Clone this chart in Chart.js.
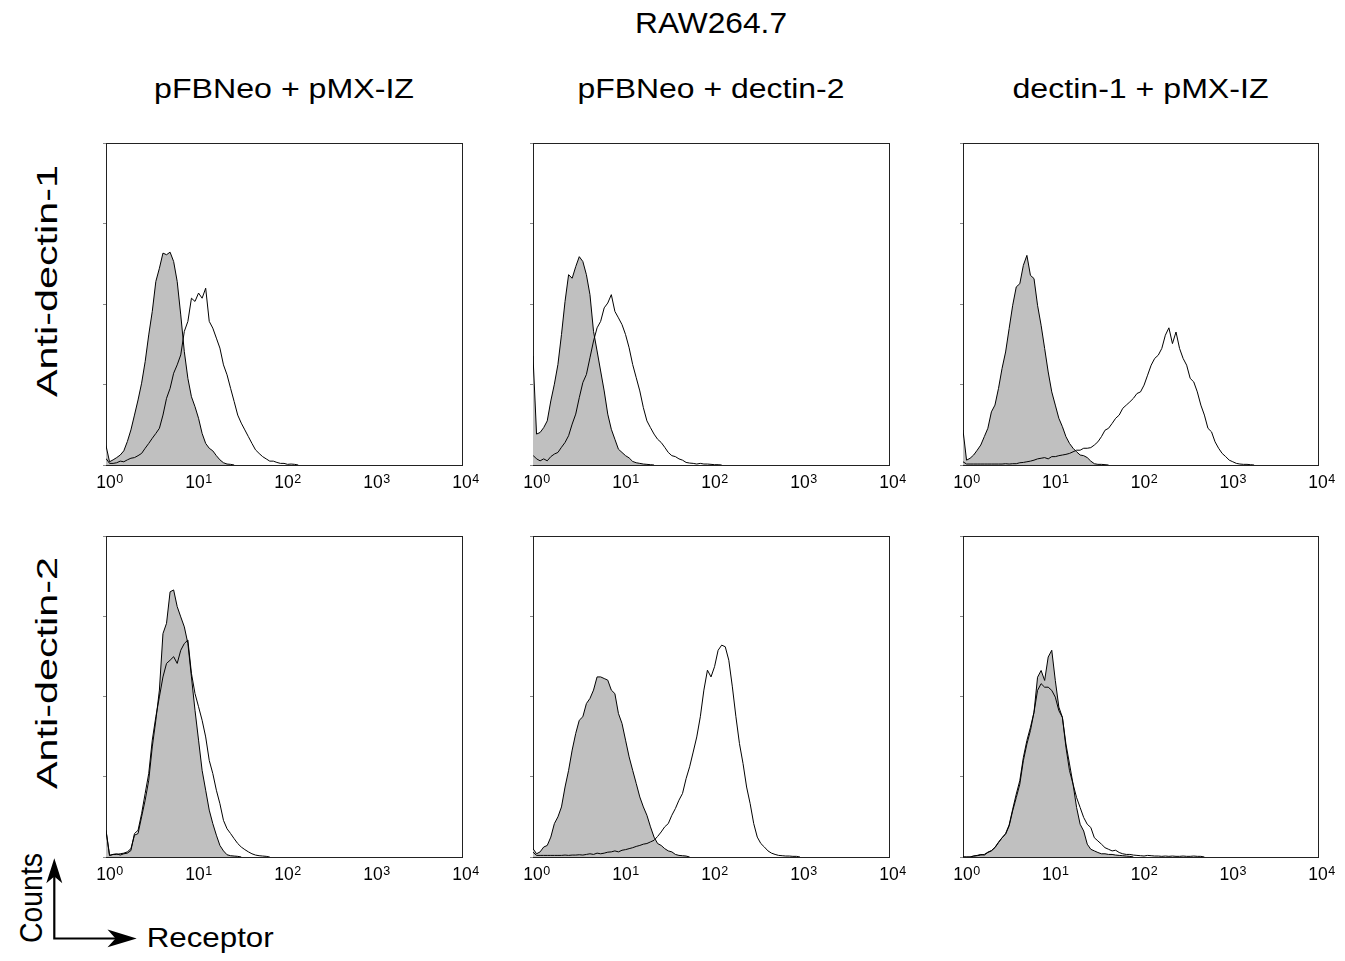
<!DOCTYPE html>
<html><head><meta charset="utf-8">
<script src="https://cdn.jsdelivr.net/npm/chart.js@4.4.1/dist/chart.umd.min.js"></script>
<style>
html,body{margin:0;padding:0;background:#fff;}
#page{position:relative;width:1345px;height:961px;overflow:hidden;font-family:"Liberation Sans",Arial,Helvetica,sans-serif;}
canvas{position:absolute;}
#ann{position:absolute;left:0;top:0;}
</style></head><body><div id="page"><svg id="ann" width="1345" height="961" xmlns="http://www.w3.org/2000/svg"></svg></div>
<script>
// ---------- text ----------
const mainTitle = 'RAW264.7';
const columnTitles = ['pFBNeo + pMX-IZ', 'pFBNeo + dectin-2', 'dectin-1 + pMX-IZ'];
const rowTitles = ['Anti-dectin-1', 'Anti-dectin-2'];
const yAxisName = 'Counts';
const xAxisName = 'Receptor';
const decadeTicks = [1, 10, 100, 1000, 10000];

// ---------- histogram bins: bin i sits at 10^(i*0.04) ----------
const BIN_LOG_STEP = 0.04;

// row 1 (anti-dectin-1), column 1 (pFBNeo + pMX-IZ)
const fill_r1c1 = [6, 1.0, 1.6, 2.3, 3.1, 4.4, 7.3, 10.9, 15.5, 20.2, 25.4, 32.1, 40.4, 47.7, 57.0, 61.1, 65.8, 65.3, 66.1, 63.2, 57.0, 46.6, 35.2, 26.9, 21.2, 18.1, 14.5, 9.8, 6.7, 5.2, 4.4, 2.9, 1.6, 0.7, 0.3, 0.2, 0];
const open_r1c1 = [2, 0.5, 0.5, 0.7, 1.2, 1.0, 1.6, 2.1, 2.3, 2.9, 3.6, 5.2, 6.7, 8.3, 9.8, 11.4, 15.5, 20.7, 23.8, 28.5, 31.1, 34.2, 41.5, 44.6, 51.8, 50.8, 53.4, 51.8, 54.9, 44.6, 42.5, 39.4, 36.3, 31.1, 28.0, 23.8, 19.7, 15.5, 13.0, 10.9, 8.8, 6.7, 4.7, 3.6, 2.6, 1.9, 1.2, 1.2, 0.8, 0.5, 0.5, 0.2, 0.3, 0.2, 0];
// row 1, column 2 (pFBNeo + dectin-2)
const fill_r1c2 = [33.8, 9.6, 10.1, 11.6, 13.7, 19.9, 25.1, 31.2, 40.5, 50.8, 59.1, 58.0, 61.6, 64.7, 63.2, 59.1, 52.9, 41.5, 35.4, 29.2, 23.0, 15.8, 11.1, 8.0, 4.9, 3.9, 2.9, 2.2, 1.1, 0.7, 0.5, 0.3, 0.2, 0.1, 0];
const open_r1c2 = [3, 1.9, 1.3, 1.9, 1.3, 2.6, 3.4, 3.9, 5.5, 7.0, 9.1, 12.7, 15.8, 20.9, 25.6, 28.1, 33.3, 38.5, 42.6, 44.6, 48.8, 50.3, 52.9, 47.7, 45.7, 43.6, 40.5, 36.4, 31.2, 27.1, 23.0, 17.8, 13.7, 11.6, 9.6, 8.0, 7.0, 5.5, 3.9, 2.9, 2.6, 1.9, 1.5, 0.8, 0.6, 0.5, 0.3, 0.5, 0.3, 0.3, 0.2, 0.1, 0.1, 0];
// row 1, column 3 (dectin-1 + pMX-IZ)
const fill_r1c3 = [10.8, 1.5, 2.1, 3.1, 4.6, 6.2, 8.8, 11.4, 16.5, 18.6, 23.8, 30.0, 35.1, 42.4, 49.6, 55.3, 56.3, 62.0, 65.1, 58.9, 57.9, 49.6, 43.4, 36.2, 28.9, 22.7, 18.6, 14.5, 11.9, 8.8, 6.7, 5.2, 4.1, 3.1, 2.9, 2.3, 1.2, 0.4, 0.2, 0.2, 0.1, 0];
const open_r1c3 = [1, 0.3, 0.3, 0.3, 0.3, 0.3, 0.3, 0.3, 0.3, 0.3, 0.3, 0.3, 0.4, 0.3, 0.4, 0.4, 0.7, 0.8, 1.0, 1.2, 1.5, 1.9, 2.1, 2.3, 1.9, 2.6, 2.6, 2.9, 3.1, 3.3, 3.6, 4.1, 4.6, 4.6, 5.2, 5.2, 5.4, 6.2, 7.2, 8.8, 10.8, 11.4, 12.9, 14.5, 15.5, 17.6, 18.6, 19.6, 20.7, 22.2, 22.7, 24.8, 27.9, 31.0, 33.1, 34.1, 36.2, 40.3, 42.6, 37.7, 41.3, 36.2, 33.1, 31.0, 26.9, 25.8, 22.7, 18.6, 15.5, 11.4, 10.3, 7.2, 5.2, 3.6, 2.6, 1.5, 1.0, 0.5, 0.3, 0.2, 0.2, 0.1, 0];
// row 2 (anti-dectin-2), column 1
const fill_r2c1 = [8.3, 0.5, 0.8, 0.8, 1.0, 1.2, 1.6, 2.6, 6.8, 7.3, 12.5, 17.7, 23.9, 34.3, 42.6, 52.0, 69.6, 72.8, 82.6, 83.2, 78.0, 74.8, 71.7, 66.5, 56.1, 45.7, 36.4, 27.0, 20.8, 14.6, 10.4, 6.8, 3.6, 1.9, 0.7, 0.4, 0.3, 0.2, 0];
const open_r2c1 = [8.3, 0.5, 0.8, 1.0, 0.6, 1.0, 1.2, 2.0, 7.3, 8.3, 13.5, 19.8, 26.0, 36.4, 43.7, 49.9, 56.1, 60.3, 61.3, 62.4, 60.3, 64.4, 66.5, 67.6, 57.2, 50.9, 46.8, 42.6, 37.4, 30.1, 26.0, 20.8, 16.6, 11.4, 8.8, 7.3, 5.7, 4.2, 3.1, 2.3, 1.6, 1.0, 0.6, 0.4, 0.3, 0.2, 0];
// row 2, column 2
const fill_r2c2 = [2.6, 1.0, 1.6, 3.1, 3.6, 6.2, 10.4, 12.5, 15.6, 21.8, 27.0, 33.3, 38.5, 42.6, 43.7, 47.8, 49.4, 52.0, 56.1, 56.1, 55.6, 55.1, 52.0, 50.9, 44.7, 41.6, 36.4, 31.2, 27.0, 22.9, 18.7, 15.6, 13.0, 9.4, 6.2, 4.2, 3.6, 2.6, 1.9, 1.6, 0.8, 0.5, 0.4, 0.3, 0];
const open_r2c2 = [1.5, 0.5, 0.5, 0.5, 0.5, 0.5, 0.5, 0.5, 0.5, 0.6, 0.5, 0.6, 0.6, 0.7, 0.6, 0.8, 1.0, 0.8, 1.2, 1.0, 1.2, 1.5, 1.6, 1.9, 1.6, 2.1, 2.3, 2.6, 2.9, 3.3, 3.6, 4.0, 4.2, 4.7, 5.2, 6.4, 7.8, 9.4, 10.4, 13.0, 15.1, 17.7, 19.8, 24.4, 28.1, 32.7, 37.4, 43.7, 52.0, 58.2, 56.1, 59.3, 64.4, 66.0, 65.5, 61.3, 53.0, 43.7, 35.3, 29.1, 21.8, 16.6, 10.4, 6.2, 4.2, 3.1, 1.9, 1.2, 0.8, 0.5, 0.4, 0.3, 0.3, 0.2, 0.2, 0];
// row 2, column 3
const fill_r2c3 = [0, 0, 0, 0.3, 0.5, 0.8, 0.6, 1.4, 1.9, 2.9, 4.5, 6.0, 7.1, 9.7, 14.4, 18.5, 22.7, 30.0, 35.2, 39.4, 45.1, 56.0, 58.1, 55.0, 62.3, 64.4, 55.0, 46.7, 43.5, 34.2, 26.9, 22.7, 15.4, 10.2, 8.1, 4.0, 2.4, 1.9, 1.4, 1.0, 1.0, 0.8, 0.8, 0.6, 0.5, 0.4, 0.3, 0.2, 0];
const open_r2c3 = [0, 0, 0, 0.3, 0.4, 0.6, 0.8, 1.5, 2.0, 3.0, 4.6, 6.0, 7.3, 10.0, 14.9, 19.6, 23.8, 31.0, 36.3, 40.4, 45.1, 51.9, 54.0, 52.9, 52.9, 51.9, 49.8, 45.6, 43.5, 35.2, 29.0, 22.7, 18.5, 15.4, 12.3, 10.2, 9.2, 6.0, 5.0, 4.0, 2.9, 2.4, 1.9, 2.1, 1.4, 1.0, 0.8, 0.8, 0.6, 0.5, 0.4, 0.3, 0.5, 0.4, 0.3, 0.3, 0.2, 0.3, 0.2, 0.3, 0.2, 0.2, 0.3, 0.2, 0.2, 0.3, 0.2, 0.2, 0];

const panelFill = [[fill_r1c1, fill_r1c2, fill_r1c3], [fill_r2c1, fill_r2c2, fill_r2c3]];
const panelOpen = [[open_r1c1, open_r1c2, open_r1c3], [open_r2c1, open_r2c2, open_r2c3]];

// ---------- layout (page pixels) ----------
const panelLeft = [106, 533, 963];
const panelRight = [462, 889, 1318];
const panelTop = [143, 536];
const panelBottom = [465, 857];
const FONT = '"Liberation Sans", Arial, Helvetica, sans-serif';

function toPoints(vals) {
  return vals.map((v, i) => ({ x: Math.pow(10, i * BIN_LOG_STEP), y: v }));
}

const decadeLabelPlugin = {
  id: 'decadeLabels',
  afterDraw(chart) {
    const sc = chart.scales.x, ctx = chart.ctx, base = chart.chartArea.bottom;
    ctx.save();
    ctx.fillStyle = '#000';
    ctx.textBaseline = 'alphabetic';
    sc.ticks.forEach(t => {
      const px = sc.getPixelForValue(t.value);
      const exp = String(Math.round(Math.log10(t.value)));
      ctx.font = '17.5px ' + FONT;
      ctx.textAlign = 'center';
      ctx.fillText('10', px, base + 23.3);
      const w = ctx.measureText('10').width;
      ctx.font = '12.5px ' + FONT;
      ctx.textAlign = 'left';
      ctx.fillText(exp, px + w / 2 + 0.6, base + 18.3);
    });
    ctx.restore();
  }
};

const page = document.getElementById('page');
const padL = 14, padT = 8, padR = 36, padB = 34;
for (let r = 0; r < 2; r++) {
  for (let c = 0; c < 3; c++) {
    const W = panelRight[c] - panelLeft[c];
    const H = panelBottom[r] - panelTop[r];
    const cv = document.createElement('canvas');
    cv.width = W + padL + padR;
    cv.height = H + padT + padB;
    cv.style.left = (panelLeft[c] - padL) + 'px';
    cv.style.top = (panelTop[r] - padT) + 'px';
    page.appendChild(cv);
    const frame = { display: true, color: '#222', width: 1 };
    new Chart(cv, {
      type: 'line',
      data: {
        datasets: [
          { data: toPoints(panelFill[r][c]), borderColor: '#000', borderWidth: 1, backgroundColor: '#c0c0c0', fill: 'origin', pointRadius: 0, tension: 0, order: 2 },
          { data: toPoints(panelOpen[r][c]), borderColor: '#000', borderWidth: 1, backgroundColor: 'rgba(0,0,0,0)', fill: false, pointRadius: 0, tension: 0, order: 1 }
        ]
      },
      options: {
        responsive: false, animation: false, devicePixelRatio: 1, events: [],
        layout: { padding: { left: padL, top: padT, right: padR, bottom: padB } },
        plugins: { legend: { display: false }, tooltip: { enabled: false } },
        scales: {
          x: { type: 'logarithmic', min: 1, max: 10000, position: 'bottom',
               afterBuildTicks: s => { s.ticks = decadeTicks.map(v => ({ value: v })); },
               ticks: { display: false }, grid: { display: false }, border: frame,
               afterFit: s => { s.height = 0; } },
          y: { type: 'linear', min: 0, max: 100, position: 'left',
               ticks: { display: false, stepSize: 25 },
               grid: { display: true, drawOnChartArea: false, drawTicks: true, tickLength: 3, color: '#888' },
               border: frame, afterFit: s => { s.width = 0; } },
          x2: { type: 'linear', position: 'top', ticks: { display: false }, grid: { display: false }, border: frame, afterFit: s => { s.height = 0; } },
          y2: { type: 'linear', position: 'right', ticks: { display: false }, grid: { display: false }, border: frame, afterFit: s => { s.width = 0; } }
        }
      },
      plugins: [decadeLabelPlugin]
    });
  }
}

// ---------- annotations (SVG text and arrows) ----------
const svg = document.getElementById('ann');
const NS = 'http://www.w3.org/2000/svg';
function svgEl(tag, attrs, text) {
  const e = document.createElementNS(NS, tag);
  for (const k in attrs) e.setAttribute(k, attrs[k]);
  if (text !== undefined) e.textContent = text;
  svg.appendChild(e);
  return e;
}
const txt = { 'font-family': 'Liberation Sans, Arial, Helvetica, sans-serif', fill: '#000', lengthAdjust: 'spacingAndGlyphs' };
svgEl('text', Object.assign({ x: 711, y: 33.3, 'font-size': 30, 'text-anchor': 'middle', textLength: 152 }, txt), mainTitle);
const headerCenters = [284, 711, 1140.5];
const headerLengths = [260, 267, 256];
columnTitles.forEach((t, i) => {
  svgEl('text', Object.assign({ x: headerCenters[i], y: 98.3, 'font-size': 27, 'text-anchor': 'middle', textLength: headerLengths[i] }, txt), t);
});
const rowCenters = [281, 673];
rowTitles.forEach((t, i) => {
  svgEl('text', Object.assign({ x: 0, y: 0, transform: 'translate(56.7,' + rowCenters[i] + ') rotate(-90)', 'font-size': 30, 'text-anchor': 'middle', textLength: 232 }, txt), t);
});
svgEl('text', Object.assign({ x: 0, y: 0, transform: 'translate(41.7,898) rotate(-90)', 'font-size': 32, 'text-anchor': 'middle', textLength: 90 }, txt), yAxisName);
svgEl('text', Object.assign({ x: 146.7, y: 947.3, 'font-size': 28, 'text-anchor': 'start', textLength: 127 }, txt), xAxisName);
// arrows
svgEl('path', { d: 'M54.3 938.5 L54.3 874 M53.2 938.5 L120 938.5', stroke: '#000', 'stroke-width': 2.2, fill: 'none' });
svgEl('path', { d: 'M54.3 858.3 L62.3 883.3 L54.3 876.5 L46.3 883.3 Z', fill: '#000' });
svgEl('path', { d: 'M136.7 938.4 L107.5 947.3 L115.5 938.4 L107.5 929.5 Z', fill: '#000' });
</script>
</body></html>
